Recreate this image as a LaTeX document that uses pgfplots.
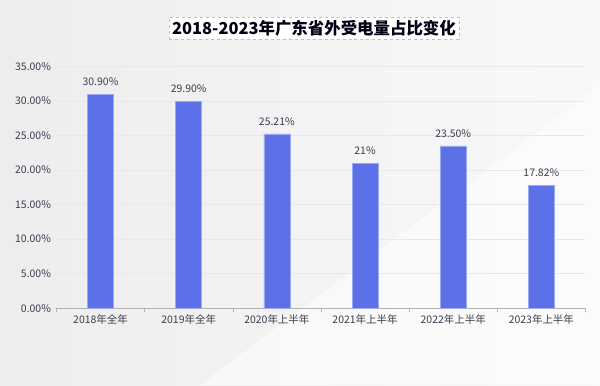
\documentclass[border=0pt]{standalone}
\usepackage{pgfplots}
\pgfplotsset{compat=1.18}
\usepackage{fontspec}
\setmainfont{Noto Sans CJK SC}
\definecolor{barc}{RGB}{92,112,232}
\definecolor{txt}{RGB}{60,60,80}
\begin{document}
\begin{tikzpicture}[x=1bp,y=1bp]
\useasboundingbox (0,0) rectangle (600,385);
\shade[left color=gray!14, right color=gray!5] (0,0) rectangle (600,385);
\fill[white,opacity=0.5] (200,0) -- (600,0) -- (600,300) -- cycle;
\begin{axis}[
  at={(64,111)}, anchor=south west,
  scale only axis, width=529bp, height=242bp,
  xmin=-0.5, xmax=5.5, ymin=0, ymax=35,
  ytick={0,5,...,35},
  yticklabel={\pgfmathprintnumber[fixed,fixed zerofill,precision=2]{\tick}\%},
  /pgf/number format/assume math mode=true,
  xtick={0,...,5},
  xticklabels={2018年全年,2019年全年,2020年上半年,2021年上半年,2022年上半年,2023年上半年},
  minor xtick={-0.5,0.5,...,5.5},
  major x tick style={draw=none},
  minor x tick style={draw=gray!60},
  major y tick style={draw=none},
  tick align=outside,
  minor tick length=4bp,
  major tick length=0bp,
  axis x line*=bottom, axis y line*=left,
  x axis line style={gray!60},
  y axis line style={draw=none},
  ymajorgrids, grid style={gray!18},
  ticklabel style={font=\fontsize{10.5}{12}\selectfont, text=txt},
  xticklabel style={yshift=-3bp},
  yticklabel style={xshift=-2bp},
  ybar, bar width=26bp,
  nodes near coords,
  nodes near coords style={font=\fontsize{10.5}{12}\selectfont, text=txt, yshift=5bp},
  point meta=explicit symbolic,
  clip=false,
]
\addplot[fill=barc, draw=barc!60!white] coordinates {
 (0,30.90) [30.90\%]
 (1,29.90) [29.90\%]
 (2,25.21) [25.21\%]
 (3,21.00) [21\%]
 (4,23.50) [23.50\%]
 (5,17.82) [17.82\%]
};
\end{axis}
\node[fill=white, draw=gray!50, dashed, inner sep=3bp, text=black!80!blue!40!black, font=\bfseries\fontsize{16.5}{18}\selectfont] at (314,357) {2018-2023年广东省外受电量占比变化};
\end{tikzpicture}
\end{document}
